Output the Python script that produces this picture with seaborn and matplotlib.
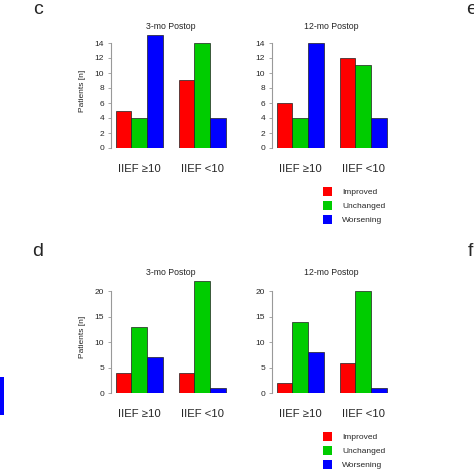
import pandas as pd
import matplotlib.pyplot as plt
import matplotlib.patches as mpatches
import seaborn as sns

# -------------------- Data -------------------- #
groups = ['IIEF ≥10', 'IIEF <10']
outcomes = ['Improved', 'Unchanged', 'Worsening']
colors = ['#FF0000', '#00CC00', '#0000FF']

# panel c (rows = groups, values in outcome order)
c_3mo = [[5, 4, 15], [9, 14, 4]]
c_12mo = [[6, 4, 14], [12, 11, 4]]
# panel d
d_3mo = [[4, 13, 7], [4, 22, 1]]
d_12mo = [[2, 14, 8], [6, 20, 1]]

titles = ['3-mo Postop', '12-mo Postop']
ylabel = 'Patients [n]'


def to_frame(vals):
    rows = []
    for g, row in zip(groups, vals):
        for o, v in zip(outcomes, row):
            rows.append({'group': g, 'outcome': o, 'patients': v})
    return pd.DataFrame(rows)


sns.set_style('white')
plt.rcParams['font.family'] = ['Liberation Sans', 'DejaVu Sans']

W = 474.0
fig = plt.figure(figsize=(4.74, 4.74), dpi=100)


def px_axes(left, top, right, bottom):
    return fig.add_axes([left / W, 1 - bottom / W, (right - left) / W, (bottom - top) / W])


def draw_panel(ax, vals, title, ymax, yticks, show_ylabel):
    df = to_frame(vals)
    sns.barplot(data=df, x='group', y='patients', hue='outcome', hue_order=outcomes,
                palette=colors, saturation=1, width=0.75, edgecolor='#202020', linewidth=0.5,
                legend=False, ax=ax)
    ax.set_xlim(-0.45, 1.45)
    ax.set_ylim(0, ymax)
    ax.set_yticks(yticks)
    for s in ['top', 'right', 'bottom']:
        ax.spines[s].set_visible(False)
    ax.spines['left'].set_bounds(yticks[0], yticks[-1])
    ax.spines['left'].set_color('#999999')
    ax.spines['left'].set_linewidth(0.8)
    ax.tick_params(axis='y', length=2.5, width=0.6, color='#999999', labelsize=6, pad=2.5,
                   left=True)
    ax.tick_params(axis='x', length=0, labelsize=8.2, pad=11.5)
    ax.set_xlabel('')
    if show_ylabel:
        ax.set_ylabel(ylabel, fontsize=6, labelpad=6)
    else:
        ax.set_ylabel('')
    ax.set_title(title, fontsize=6.3, pad=4)


# -------------------- panel c -------------------- #
ax1 = px_axes(111, 34.75, 230.5, 148)
draw_panel(ax1, c_3mo, titles[0], 15.1, [0, 2, 4, 6, 8, 10, 12, 14], True)
ax2 = px_axes(272, 34.75, 391.5, 148)
draw_panel(ax2, c_12mo, titles[1], 15.1, [0, 2, 4, 6, 8, 10, 12, 14], False)

# -------------------- panel d -------------------- #
ax3 = px_axes(111, 280.3, 230.5, 393)
draw_panel(ax3, d_3mo, titles[0], 22.2, [0, 5, 10, 15, 20], True)
ax4 = px_axes(272, 280.3, 391.5, 393)
draw_panel(ax4, d_12mo, titles[1], 22.2, [0, 5, 10, 15, 20], False)

# -------------------- legends -------------------- #
handles = [mpatches.Patch(facecolor=c, edgecolor='none') for c in colors]
for top_px in [187, 432]:
    fig.legend(handles, outcomes, loc='upper left', bbox_to_anchor=(323 / W, 1 - top_px / W),
               frameon=False, fontsize=6, handlelength=1.08, handleheight=1.2,
               handletextpad=1.2, labelspacing=0.6, borderpad=0, borderaxespad=0)

# -------------------- panel letters -------------------- #
fig.text(38 / W, 1 - 9 / W, 'c', fontsize=14, ha='center', va='center')
fig.text(38 / W, 1 - 252 / W, 'd', fontsize=14, ha='center', va='center')
fig.text(466 / W, 1 - 9 / W, 'e', fontsize=14, ha='left', va='center')
fig.text(468 / W, 1 - 252 / W, 'f', fontsize=14, ha='left', va='center')

# partial legend swatch from neighbouring panel at the left edge
fig.patches.append(mpatches.Rectangle((0, 1 - 415 / W), 4 / W, 38 / W, facecolor='#0000FF',
                                      edgecolor='none', transform=fig.transFigure, figure=fig))

fig.savefig('out.png', dpi=100)
